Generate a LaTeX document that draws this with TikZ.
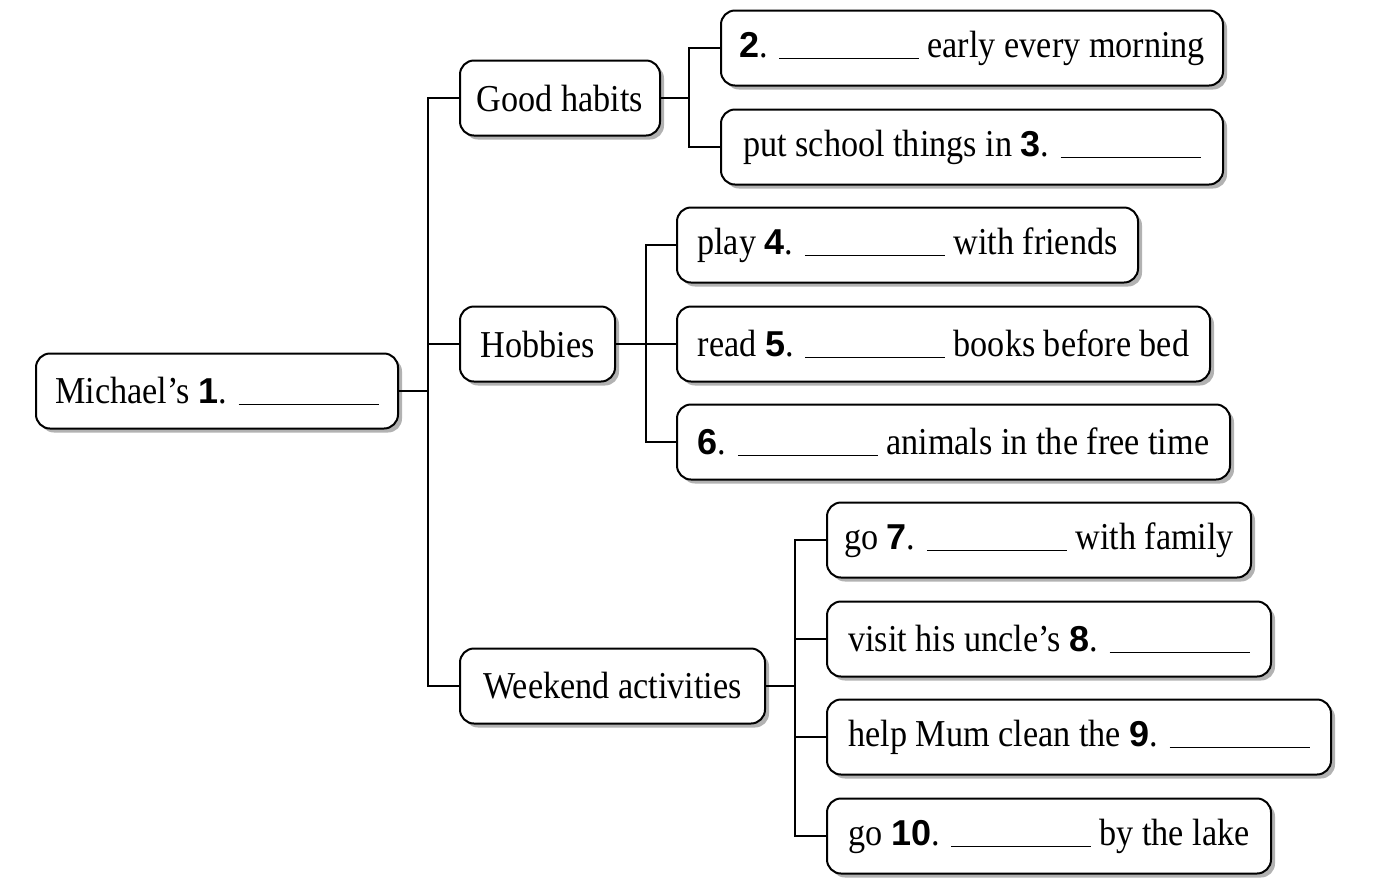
\documentclass[tikz,border=0pt]{standalone}
\usepackage{fontspec}
\setmainfont{Liberation Serif}[FakeStretch=0.9]
\newfontfamily\numfont{Liberation Sans}
\usetikzlibrary{shadows}
\newcommand\nb[1]{{\numfont\fontsize{18}{20}\selectfont\bfseries #1}}
\newcommand\blank{\rule[-1pt]{70pt}{0.7pt}}
\tikzset{
  box/.style={draw, line width=1pt, rounded corners=7pt, fill=white,
    minimum width=#1, minimum height=37.5pt, inner sep=0pt, anchor=west,
    font=\fontsize{19}{22}\selectfont,
    drop shadow={shadow xshift=2pt, shadow yshift=-2pt, fill=black!30, opacity=1}},
  link/.style={line width=0.8pt}
}
\begin{document}
\begin{tikzpicture}[x=0.5pt,y=-0.5pt]
\useasboundingbox (0,0) rectangle (1387,885);
% level 0
\node[box=181pt] (root) at (35,391) {Michael’s \nb{1}. \blank};
% level 1
\node[box=100pt] (good) at (459,98) {Good habits};
\node[box=77.5pt] (hob) at (459,344) {Hobbies};
\node[box=152.5pt] (week) at (459,686) {Weekend activities};
% level 2
\node[box=251pt] (a2) at (720,48) {\nb{2}. \blank\ early every morning};
\node[box=251pt] (a3) at (720,147) {put school things in \nb{3}. \blank};
\node[box=230.5pt] (a4) at (676,245) {play \nb{4}. \blank\ with friends};
\node[box=266.5pt] (a5) at (676,344) {read \nb{5}. \blank\ books before bed};
\node[box=276.5pt] (a6) at (676,442) {\nb{6}. \blank\ animals in the free time};
\node[box=212pt] (a7) at (826,540) {go \nb{7}. \blank\ with family};
\node[box=222pt] (a8) at (826,639) {visit his uncle’s \nb{8}. \blank};
\node[box=252pt] (a9) at (826,737) {help Mum clean the \nb{9}. \blank};
\node[box=222pt] (a10) at (826,836) {go \nb{10}. \blank\ by the lake};
% junctions
\coordinate (t) at (428,391);
\coordinate (g) at (689,98);
\coordinate (h) at (646,344);
\coordinate (w) at (795,686);
% connectors
\draw[link] (root.east) -- (t);
\draw[link] (good.west) -| (t);
\draw[link] (hob.west) -| (t);
\draw[link] (week.west) -| (t);
\draw[link] (good.east) -- (g);
\draw[link] (a2.west) -| (g);
\draw[link] (a3.west) -| (g);
\draw[link] (hob.east) -- (h);
\draw[link] (a4.west) -| (h);
\draw[link] (a5.west) -| (h);
\draw[link] (a6.west) -| (h);
\draw[link] (week.east) -- (w);
\draw[link] (a7.west) -| (w);
\draw[link] (a8.west) -| (w);
\draw[link] (a9.west) -| (w);
\draw[link] (a10.west) -| (w);
\end{tikzpicture}
\end{document}
